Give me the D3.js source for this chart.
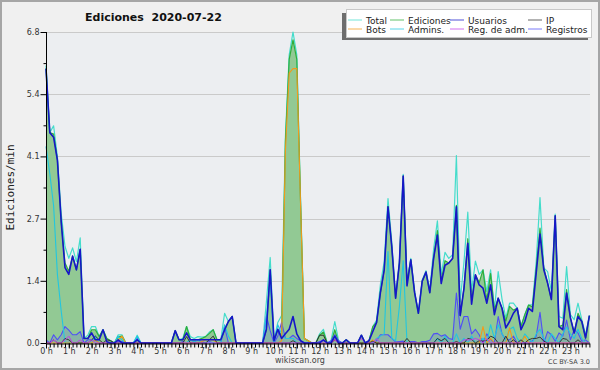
<!DOCTYPE html>
<html>
<head>
<meta charset="utf-8">
<script src="https://cdn.jsdelivr.net/npm/d3@7"></script>
<style>
html, body { margin: 0; padding: 0; background: #f0f0f0; }
svg { display: block; }
</style>
</head>
<body>
<svg id="chart" width="600" height="370"></svg>
<script>
// Ediciones por minuto, 2020-07-22, en pasos de 10 minutos (144 puntos)
const usuarios = [
  6.0, 4.6, 4.5, 4.0, 2.65, 1.65,  1.5, 1.9, 1.6, 2.05, 0.1, 0.1,
  0.22, 0.07, 0.07, 0.29, 0.03, 0,  0, 0.07, 0, 0, 0, 0,
  0.07, 0, 0, 0, 0, 0,  0, 0, 0, 0, 0.27, 0.07,
  0.07, 0.22, 0.07, 0.07, 0.07, 0.07,  0.07, 0.07, 0.07, 0.07, 0.07, 0.29,
  0.47, 0.58, 0, 0, 0, 0,  0, 0, 0, 0, 0.3, 1.6,
  0.05, 0.3, 0.1, 0.2, 0.3, 0.58,  0.2, 0.05, 0, 0, 0, 0,
  0, 0.07, 0, 0, 0.15, 0,  0, 0.07, 0, 0, 0, 0.17,
  0, 0.05, 0.25, 0.45, 1.1, 1.6,  2.98, 2.1, 0.98, 1.75, 3.65, 1.25,
  1.82, 1.1, 0.65, 1.35, 1.55, 1.1,  1.85, 2.36, 1.3, 1.7, 1.75, 1.85,
  2.98, 0.6, 1.2, 2.18, 0.85, 1.49,  1.27, 1.2, 0.87, 1.27, 0.62, 0.98,
  0.76, 0.33, 0.47, 0.65, 0.76, 0.29,  0.47, 0.76, 0.69, 1.53, 2.38, 1.6,
  1.31, 0.95, 2.78, 0.36, 0.29, 1.09,  0.55, 0.22, 0.58, 0.47, 0.11, 0.6
];
const bots = [
  0, 0, 0, 0, 0, 0,  0, 0, 0, 0, 0, 0,
  0, 0.07, 0, 0, 0, 0,  0, 0.07, 0.15, 0, 0, 0,
  0, 0, 0, 0, 0, 0,  0, 0, 0, 0, 0, 0,
  0, 0, 0, 0, 0, 0.03,  0.07, 0.07, 0.07, 0, 0, 0,
  0, 0, 0, 0, 0, 0,  0, 0, 0, 0, 0, 0,
  0, 0, 0.05, 4.2, 5.9, 6.0,  6.0, 3.0, 0.1, 0.05, 0, 0,
  0, 0, 0, 0, 0.07, 0,  0, 0, 0, 0, 0, 0,
  0, 0, 0.07, 0, 0, 0,  0, 0, 0, 0, 0, 0,
  0, 0, 0, 0, 0, 0,  0, 0, 0, 0, 0, 0,
  0, 0, 0, 0, 0, 0,  0, 0.36, 0, 0.1, 0, 0,
  0, 0, 0.33, 0, 0, 0,  0.15, 0, 0, 0, 0, 0,
  0, 0, 0, 0, 0, 0,  0, 0, 0, 0, 0, 0
];
const ip = [
  0, 0, 0.07, 0, 0, 0.1,  0.07, 0, 0, 0, 0, 0,
  0.07, 0.15, 0.07, 0, 0.07, 0.05,  0, 0, 0, 0, 0, 0,
  0, 0, 0, 0, 0, 0,  0, 0, 0, 0, 0, 0,
  0, 0.14, 0, 0, 0, 0,  0, 0.07, 0.15, 0, 0, 0,
  0, 0, 0, 0, 0, 0,  0, 0, 0, 0, 0, 0,
  0, 0, 0, 0, 0, 0.05,  0, 0, 0, 0, 0, 0,
  0.17, 0.17, 0, 0, 0.07, 0,  0, 0, 0, 0, 0, 0,
  0, 0, 0.04, 0, 0, 0,  0, 0, 0, 0, 0, 0.1,
  0, 0, 0, 0, 0, 0,  0, 0.1, 0.05, 0.1, 0, 0,
  0.03, 0, 0, 0.1, 0.08, 0,  0.05, 0.04, 0.06, 0.15, 0.11, 0,
  0, 0.15, 0, 0.07, 0, 0.07,  0, 0.07, 0.1, 0.1, 0.13, 0.04,
  0, 0, 0, 0, 0.1, 0.08,  0, 0, 0.07, 0, 0, 0
];
const registros = [
  0.07, 0, 0.18, 0.07, 0.18, 0.36,  0.28, 0.18, 0.18, 0.25, 0, 0.07,
  0.07, 0.07, 0, 0, 0, 0,  0, 0.04, 0.03, 0, 0, 0,
  0.1, 0, 0, 0, 0, 0,  0, 0, 0, 0, 0, 0,
  0.03, 0, 0.07, 0.03, 0.07, 0.03,  0, 0.03, 0, 0, 0, 0.36,
  0, 0, 0, 0, 0, 0,  0, 0, 0, 0, 0.6, 0.27,
  0, 0.15, 0.45, 0.1, 0.1, 0.17,  0.1, 0.05, 0, 0, 0, 0,
  0.03, 0.06, 0, 0.05, 0.18, 0.05,  0, 0, 0, 0, 0, 0,
  0, 0, 0, 0.05, 0.18, 0.18,  0.18, 0.1, 0.02, 0.03, 0.04, 0,
  0.03, 0.03, 0, 0.03, 0.03, 0.06,  0.2, 0.21, 0.15, 0.18, 0.1, 0.08,
  1.09, 0.3, 0.58, 0.58, 0.2, 0.3,  0.18, 0, 0.2, 0.08, 0, 0.58,
  0.2, 0.07, 0.07, 0.15, 0, 0,  0, 0, 0.05, 0.15, 0.67, 0,
  0.25, 0.18, 0.04, 0.22, 0.15, 0.5,  0.07, 0.29, 0.22, 0.04, 0.07, 0
];
const ediciones = [
  6.0, 4.6, 4.57, 4.0, 2.65, 1.75,  1.57, 1.9, 1.6, 2.05, 0.1, 0.1,
  0.29, 0.29, 0.14, 0.29, 0.1, 0.05,  0, 0.14, 0.15, 0, 0, 0,
  0.07, 0, 0, 0, 0, 0,  0, 0, 0, 0, 0.27, 0.07,
  0.07, 0.36, 0.07, 0.07, 0.07, 0.1,  0.14, 0.21, 0.29, 0.07, 0.07, 0.29,
  0.47, 0.58, 0, 0, 0, 0,  0, 0, 0, 0, 0.3, 1.6,
  0.05, 0.3, 0.15, 4.4, 6.2, 6.63,  6.2, 3.05, 0.1, 0.05, 0, 0,
  0.17, 0.24, 0, 0, 0.29, 0,  0, 0.07, 0, 0, 0, 0.17,
  0, 0.05, 0.36, 0.45, 1.1, 1.6,  2.98, 2.1, 0.98, 1.75, 3.65, 1.35,
  1.82, 1.1, 0.65, 1.35, 1.55, 1.1,  1.85, 2.46, 1.35, 1.8, 1.75, 1.85,
  3.01, 0.6, 1.2, 2.28, 0.93, 1.49,  1.32, 1.6, 0.93, 1.52, 0.73, 0.98,
  0.76, 0.48, 0.8, 0.72, 0.76, 0.36,  0.62, 0.83, 0.79, 1.63, 2.51, 1.64,
  1.31, 0.95, 2.78, 0.36, 0.39, 1.17,  0.55, 0.22, 0.65, 0.47, 0.11, 0.6
];
const total = [
  6.07, 4.6, 4.75, 4.07, 2.83, 2.11,  1.85, 2.08, 1.78, 2.3, 0.1, 0.17,
  0.36, 0.36, 0.14, 0.29, 0.1, 0.05,  0, 0.18, 0.18, 0, 0, 0,
  0.17, 0, 0, 0, 0, 0,  0, 0, 0, 0, 0.27, 0.07,
  0.1, 0.36, 0.14, 0.1, 0.14, 0.13,  0.14, 0.24, 0.29, 0.07, 0.07, 0.65,
  0.47, 0.58, 0, 0, 0, 0,  0, 0, 0, 0, 0.9, 1.87,
  0.05, 0.45, 0.6, 4.5, 6.3, 6.8,  6.3, 3.1, 0.1, 0.05, 0, 0,
  0.2, 0.3, 0, 0.05, 0.47, 0.05,  0, 0.07, 0, 0, 0, 0.17,
  0, 0.05, 0.36, 0.5, 1.28, 1.78,  3.16, 2.2, 1.0, 1.78, 3.69, 1.35,
  1.85, 1.13, 0.65, 1.38, 1.58, 1.16,  2.05, 2.67, 1.5, 1.98, 1.85, 1.93,
  4.1, 0.9, 1.78, 2.86, 1.13, 1.79,  1.5, 1.6, 1.13, 1.6, 0.73, 1.56,
  0.96, 0.55, 0.87, 0.87, 0.76, 0.36,  0.62, 0.83, 0.84, 1.78, 3.18, 1.64,
  1.56, 1.13, 2.82, 0.58, 0.54, 1.67,  0.62, 0.51, 0.87, 0.51, 0.18, 0.6
];
const admins = [
  4.3, 3.7, 3.0, 1.5, 0.7, 0,  0, 0, 0, 0, 0, 0,
  0, 0.15, 0, 0, 0, 0,  0, 0.15, 0.07, 0, 0, 0,
  0.15, 0, 0, 0, 0, 0,  0, 0, 0, 0, 0, 0,
  0, 0, 0.07, 0.03, 0.07, 0,  0, 0, 0, 0, 0, 0.4,
  0.15, 0, 0, 0, 0, 0,  0, 0, 0, 0, 0.55, 1.4,
  0, 0.4, 0.2, 0.1, 0.1, 0.1,  0, 0, 0, 0, 0, 0,
  0, 0, 0, 0, 0.15, 0,  0, 0, 0, 0, 0, 0,
  0, 0, 0, 0.1, 0.15, 0.2,  2.0, 0.1, 0.05, 0.8, 1.8, 0,
  0, 0, 0, 0, 0, 0,  0, 0.1, 0, 0.15, 0, 0,
  0.2, 0, 0.1, 0, 0.15, 0,  0, 0.1, 0, 0.4, 0.1, 0.4,
  0.2, 0.05, 0.3, 0.35, 0.1, 0,  0.2, 0.1, 0, 0.2, 0.3, 0.1,
  0, 0.2, 0.1, 0, 0.2, 0.35,  0.2, 0.1, 0.3, 0.1, 0, 0
];
const regAdm = [
  0, 0, 0.07, 0, 0, 0.07,  0.15, 0, 0, 0.07, 0, 0,
  0.07, 0, 0, 0, 0, 0,  0, 0, 0, 0, 0, 0,
  0, 0, 0, 0, 0, 0,  0, 0, 0, 0, 0, 0,
  0, 0, 0, 0, 0, 0,  0, 0, 0, 0, 0, 0,
  0, 0, 0, 0, 0, 0,  0, 0, 0, 0, 0, 0,
  0, 0, 0, 0, 0, 0,  0, 0, 0, 0, 0, 0,
  0, 0, 0, 0, 0.07, 0,  0, 0, 0, 0, 0, 0.1,
  0, 0, 0, 0.1, 0, 0,  0, 0, 0, 0, 0, 0,
  0, 0, 0, 0, 0, 0,  0, 0, 0, 0, 0, 0,
  0, 0, 0.07, 0.07, 0.07, 0.1,  0.07, 0, 0.1, 0, 0, 0,
  0, 0, 0, 0, 0, 0,  0, 0, 0, 0, 0, 0,
  0, 0, 0, 0, 0, 0,  0, 0, 0, 0, 0, 0
];
const hours = d3.range(0, 24);
const yMax = 6.8;

const svg = d3.select("#chart");
const x = d3.scaleLinear().domain([0, 143]).range([46, 589.4]);
const y = d3.scaleLinear().domain([0, yMax]).range([343, 32]);

// fondo y marco
svg.append("rect").attr("width", 600).attr("height", 370).attr("fill", "#f0f0f0");
svg.append("rect").attr("x", 46).attr("y", 32).attr("width", 544).attr("height", 311).attr("fill", "#eceef1");
svg.append("rect").attr("x", 1).attr("y", 1).attr("width", 598).attr("height", 368)
    .attr("fill", "none").attr("stroke", "#a6a6a6").attr("stroke-width", 2);

// líneas de la cuadrícula
const majorY = d3.range(0, 6).map(k => yMax * k / 5);
svg.append("g").selectAll("line").data(majorY.slice(1)).join("line")
    .attr("x1", 46).attr("x2", 590)
    .attr("y1", d => Math.round(y(d)) + .5).attr("y2", d => Math.round(y(d)) + .5)
    .attr("stroke", "#cacaca");

const area = vals => d3.area().x((d, i) => x(i)).y0(y(0)).y1(d => y(d))(vals);
const line = vals => d3.line().x((d, i) => x(i)).y(d => y(d))(vals);

svg.append("path").attr("d", area(ediciones)).attr("fill", "#92c994");
svg.append("path").attr("d", area(registros)).attr("fill", "#5a5aff").attr("fill-opacity", .18);

const series = [
    { name: "Total", values: total, color: "#44dccb", width: 1.2 },
    { name: "Ediciones", values: ediciones, color: "#2fae3a", width: 1.2 },
    { name: "Registros", values: registros, color: "#4f4ff6", width: 1.1 },
    { name: "Admins.", values: admins, color: "#22c6e0", width: 1.1 },
    { name: "Bots", values: bots, color: "#f29a1c", width: 1.1 },
    { name: "IP", values: ip, color: "#333333", width: 1 },
    { name: "Reg. de adm.", values: regAdm, color: "#c23ee8", width: 1 },
    { name: "Usuarios", values: usuarios, color: "#1616c8", width: 1.6 }
];
svg.append("g").selectAll("path").data(series).join("path")
    .attr("d", d => line(d.values))
    .attr("fill", "none")
    .attr("stroke", d => d.color)
    .attr("stroke-width", d => d.width)
    .attr("stroke-linejoin", "round");

// ejes
const yAxis = svg.append("g").attr("transform", "translate(46.5,0)")
    .call(d3.axisLeft(y).tickValues(majorY).tickSize(6).tickPadding(1).tickFormat(d3.format(".1f")));
yAxis.select(".domain").attr("d", `M0,${y(yMax)}V${y(0)}`).attr("stroke", "#000");
yAxis.selectAll("text").attr("font-family", "DejaVu Sans").attr("font-size", 8).attr("fill", "#333");
svg.append("g").attr("transform", "translate(46.5,0)")
    .call(d3.axisLeft(y).tickValues(d3.range(0, 10).map(k => yMax * (k + .5) / 5).filter(v => v < yMax)).tickSize(3).tickFormat(""))
    .select(".domain").remove();

const xAxis = svg.append("g").attr("transform", "translate(0,343.5)")
    .call(d3.axisBottom(x).tickValues(d3.range(0, 144)).tickSize(4).tickFormat("").tickSizeOuter(0));
xAxis.select(".domain").attr("stroke", "#000");
const hourAxis = svg.append("g").attr("transform", "translate(0,343.5)")
    .call(d3.axisBottom(x).tickValues(hours.map(h => h * 6)).tickSize(5).tickPadding(0).tickFormat(d => `${d / 6} h`));
hourAxis.select(".domain").remove();
hourAxis.selectAll("text").attr("font-family", "DejaVu Sans").attr("font-size", 8).attr("fill", "#333");

// textos
svg.append("text").attr("x", 85).attr("y", 21)
    .attr("font-family", "DejaVu Sans").attr("font-weight", "bold").attr("font-size", 11).attr("fill", "#111")
    .attr("xml:space", "preserve").text("Ediciones  2020-07-22");
svg.append("text").attr("transform", "translate(13.5,187.5) rotate(-90)").attr("text-anchor", "middle")
    .attr("font-family", "DejaVu Sans Mono").attr("font-size", 11).attr("fill", "#222").text("Ediciones/min");
svg.append("text").attr("x", 300).attr("y", 363).attr("text-anchor", "middle")
    .attr("font-family", "DejaVu Sans").attr("font-size", 8).attr("fill", "#444").text("wikiscan.org");
svg.append("text").attr("x", 590).attr("y", 364).attr("text-anchor", "end")
    .attr("font-family", "DejaVu Sans").attr("font-size", 6.5).attr("fill", "#444").text("CC BY-SA 3.0");

// leyenda
const legendOrder = ["Total", "Ediciones", "Usuarios", "IP", "Bots", "Admins.", "Reg. de adm.", "Registros"];
const colX = [348, 390, 450, 528];
svg.append("rect").attr("x", 342).attr("y", 13).attr("width", 246).attr("height", 27).attr("fill", "#6e6e6e");
svg.append("rect").attr("x", 346.5).attr("y", 9.5).attr("width", 245).attr("height", 28)
    .attr("fill", "#fff").attr("stroke", "#c8c8c8");
const legend = svg.append("g").selectAll("g").data(legendOrder).join("g")
    .attr("transform", (d, i) => `translate(${colX[i % 4]},${i < 4 ? 20 : 29})`);
legend.append("line").attr("x1", 0).attr("x2", 14)
    .attr("stroke", d => series.find(s => s.name === d).color).attr("stroke-width", 1)
    .attr("stroke-opacity", .75);
legend.append("text").attr("x", 18).attr("y", 3.5)
    .attr("font-family", "DejaVu Sans").attr("font-size", 9).attr("fill", "#222").text(d => d);
</script>
</body>
</html>
